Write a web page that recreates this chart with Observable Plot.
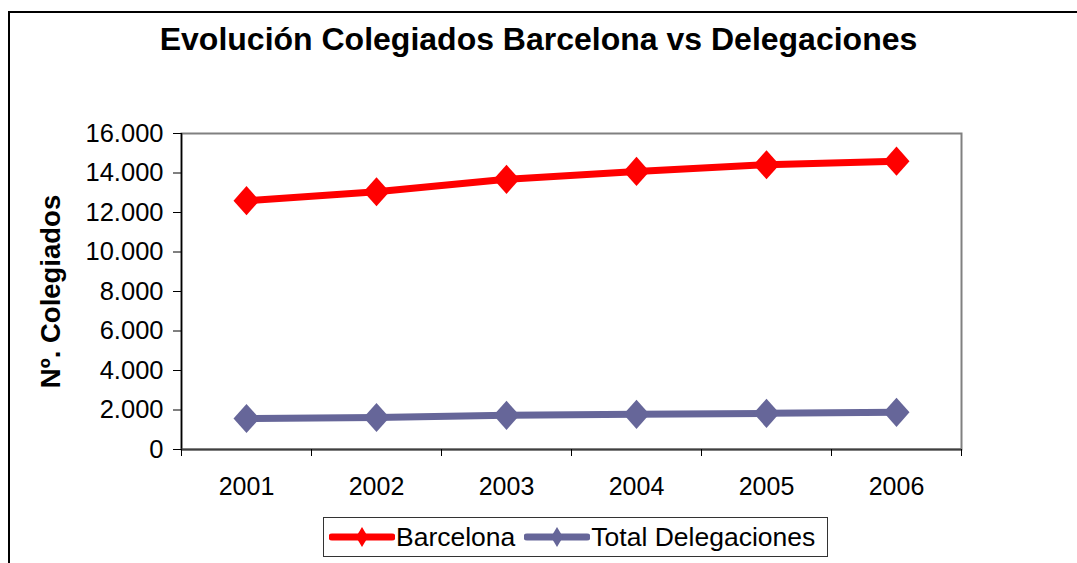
<!DOCTYPE html>
<html>
<head>
<meta charset="utf-8">
<script src="https://cdn.jsdelivr.net/npm/d3@7"></script>
<script src="https://cdn.jsdelivr.net/npm/@observablehq/plot@0.6"></script>
<style>
  html, body { margin: 0; padding: 0; background: #fff; }
  body { width: 1077px; height: 563px; position: relative; overflow: hidden; font-family: "Liberation Sans", Arial, sans-serif; }
  #outer { position: absolute; left: 8px; top: 11px; width: 1100px; height: 600px; border-left: 2px solid #000; border-top: 2px solid #000; }
  #title { position: absolute; left: 0; width: 1077px; top: 21px; text-align: center; font-weight: bold; font-size: 32px; color: #000; white-space: nowrap; }
  #chart { position: absolute; left: 0; top: 0; }
  #legend { position: absolute; left: 323px; top: 517px; width: 505px; height: 40px; border: 1px solid #333; box-sizing: border-box; display: flex; align-items: center; font-size: 26.5px; color: #000; white-space: nowrap; }
  #legend .item { display: flex; align-items: center; }
  #legend svg { display: block; }
</style>
</head>
<body>
<div id="outer"></div>
<div id="chart"></div>
<div id="title">Evolución Colegiados Barcelona vs Delegaciones</div>
<div id="legend"></div>
<script>
const years = [2001, 2002, 2003, 2004, 2005, 2006];
const barcelona = [12600, 13050, 13680, 14080, 14420, 14600];
const delegaciones = [1570, 1620, 1730, 1780, 1830, 1880];
const seriesNames = ["Barcelona", "Total Delegaciones"];
const seriesColors = ["#FF0000", "#666699"];
const yTicks = [0, 2000, 4000, 6000, 8000, 10000, 12000, 14000, 16000];
const yTitle = "Nº. Colegiados";

const data = [
  ...years.map((y, i) => ({year: y, value: barcelona[i], serie: seriesNames[0]})),
  ...years.map((y, i) => ({year: y, value: delegaciones[i], serie: seriesNames[1]}))
];

const es = d3.formatLocale({decimal: ",", thousands: ".", grouping: [3], currency: ["", " €"]});
const fmt = es.format(",");

const tallDiamond = {
  draw(context, size) {
    const r = Math.sqrt(size / Math.PI);
    const hw = r, hh = r * 1.12;
    context.moveTo(0, -hh);
    context.lineTo(hw, 0);
    context.lineTo(0, hh);
    context.lineTo(-hw, 0);
    context.closePath();
  }
};

const boundaries = d3.range(years[0] - 0.5, years[years.length - 1] + 1, 1);

const chart = Plot.plot({
  width: 1077,
  height: 563,
  marginTop: 133,
  marginBottom: 114,
  marginLeft: 181,
  marginRight: 116,
  style: {fontFamily: "'Liberation Sans', Arial, sans-serif", color: "#000", background: "transparent"},
  x: {type: "linear", domain: [years[0] - 0.5, years[years.length - 1] + 0.5]},
  y: {domain: [0, 16000]},
  color: {domain: seriesNames, range: seriesColors},
  marks: [
    Plot.frame({stroke: "#808080", strokeWidth: 2}),
    Plot.ruleX([years[0] - 0.5], {stroke: "#000", strokeWidth: 1.5}),
    Plot.ruleY([0], {stroke: "#404040", strokeWidth: 2}),
    Plot.axisY({ticks: yTicks, tickSize: 8, tickPadding: 10, tickFormat: fmt, fontSize: 25.5, label: null, stroke: "#000"}),
    Plot.axisX({ticks: years, tickSize: 0, tickPadding: 28, tickFormat: d => String(d), fontSize: 25, label: null}),
    Plot.axisX({ticks: boundaries, tickSize: 7, tickFormat: () => "", label: null, stroke: "#000"}),
    Plot.text([yTitle], {frameAnchor: "left", textAnchor: "middle", dx: -130, rotate: -90, fontSize: 27.5, fontWeight: "bold", fill: "#000"}),
    Plot.line(data, {x: "year", y: "value", z: "serie", stroke: "serie", strokeWidth: 7}),
    Plot.dot(data, {x: "year", y: "value", fill: "serie", stroke: null, symbol: tallDiamond, r: 13})
  ]
});
document.getElementById("chart").appendChild(chart);

// Legend
const legend = document.getElementById("legend");
seriesNames.forEach((name, i) => {
  const item = document.createElement("div");
  item.className = "item";
  item.style.marginLeft = i === 0 ? "5px" : "9px";
  const ns = "http://www.w3.org/2000/svg";
  const svg = document.createElementNS(ns, "svg");
  svg.setAttribute("width", 66);
  svg.setAttribute("height", 24);
  const line = document.createElementNS(ns, "line");
  line.setAttribute("x1", 3); line.setAttribute("x2", 63);
  line.setAttribute("y1", 12); line.setAttribute("y2", 12);
  line.setAttribute("stroke", seriesColors[i]);
  line.setAttribute("stroke-width", 7);
  line.setAttribute("stroke-linecap", "round");
  svg.appendChild(line);
  const dia = document.createElementNS(ns, "path");
  dia.setAttribute("d", "M33,2 L39,12 L33,22 L27,12 Z");
  dia.setAttribute("fill", seriesColors[i]);
  svg.appendChild(dia);
  item.appendChild(svg);
  const label = document.createElement("span");
  label.textContent = name;
  label.style.marginLeft = "1px";
  item.appendChild(label);
  legend.appendChild(item);
});
</script>
</body>
</html>
